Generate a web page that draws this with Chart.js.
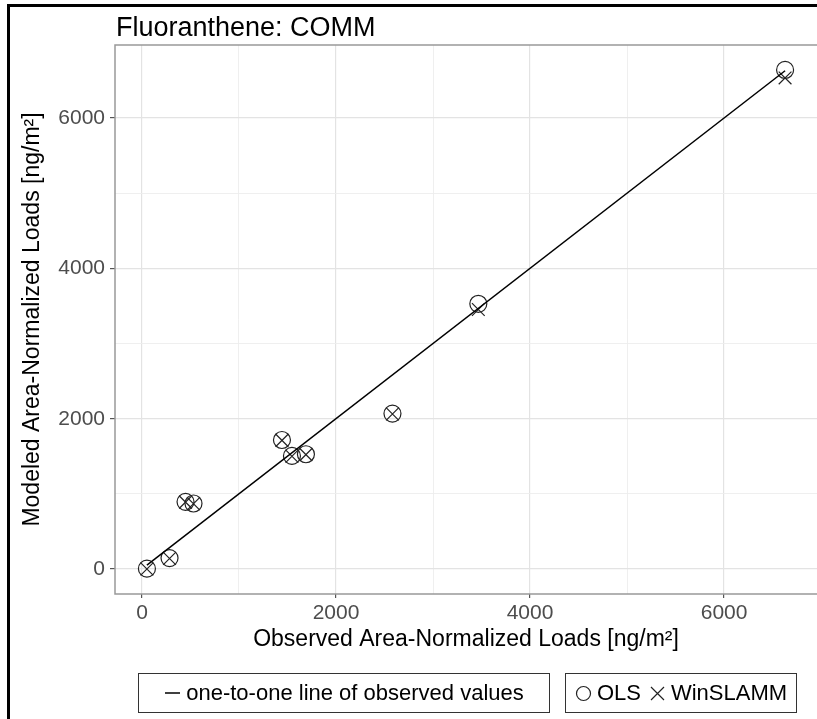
<!DOCTYPE html>
<html>
<head>
<meta charset="utf-8">
<script src="https://cdn.jsdelivr.net/npm/chart.js@4.4.1/dist/chart.umd.min.js"></script>
<style>
  body { margin: 0; background: #fff; font-family: "Liberation Sans", Arial, sans-serif; }
  #wrap { position: relative; width: 817px; height: 719px; overflow: hidden; }
  #frameL { position: absolute; left: 7px; top: 4px; width: 3px; height: 715px; background: #000; }
  #frameT { position: absolute; left: 7px; top: 4px; width: 810px; height: 3px; background: #000; }
  #title { position: absolute; left: 116px; top: 14px; font-size: 27px; line-height: 27px; color: #000; white-space: nowrap; }
  .box { position: absolute; top: 673px; height: 40px; box-sizing: border-box; border: 1px solid #333;
         display: flex; align-items: center; justify-content: center; font-size: 22px; color: #000; white-space: nowrap; }
  #box1 { left: 138px; width: 412px; }
  #box2 { left: 565px; width: 232px; }
  .box svg { margin-right: 5px; flex: none; }
  .gap { width: 8px; }
</style>
</head>
<body>
<div id="wrap">
  <canvas id="scatter" width="817" height="719"></canvas>
  <div id="frameL"></div>
  <div id="frameT"></div>
  <div id="title">Fluoranthene: COMM</div>
  <div class="box" id="box1">
    <svg width="17" height="10"><line x1="1" y1="5" x2="16" y2="5" stroke="#000" stroke-width="1.5"/></svg>
    <span>one-to-one line of observed values</span>
  </div>
  <div class="box" id="box2">
    <svg width="17" height="17"><circle cx="8.5" cy="8.5" r="7" fill="none" stroke="#222" stroke-width="1.2"/></svg>
    <span>OLS</span>
    <span class="gap"></span>
    <svg width="17" height="17"><path d="M2 2L15 15M15 2L2 15" stroke="#222" stroke-width="1.2"/></svg>
    <span>WinSLAMM</span>
  </div>
</div>
<script>
// observed vs modeled loads (ng/m2)
const observed = [51, 284, 449, 531, 1443, 1546, 1690, 2582, 3467, 6629];
const olsModeled = [5, 146, 894, 872, 1717, 1505, 1527, 2068, 3529, 6640];
const winslammModeled = [0, 140, 890, 868, 1712, 1500, 1522, 2062, 3453, 6534];
const lineEnds = [51, 6629];

const gridVals = [0, 1000, 2000, 3000, 4000, 5000, 6000];
const xRange = [-278, 6958];
const yRange = [-332, 6972];

const isMajor = v => v % 2000 === 0;

const panelBorder = {
  id: 'panelBorder',
  afterDraw(chart) {
    const { ctx, chartArea: a } = chart;
    ctx.save();
    ctx.strokeStyle = '#999';
    ctx.lineWidth = 1.5;
    ctx.beginPath();
    ctx.moveTo(a.right, a.top);
    ctx.lineTo(a.left, a.top);
    ctx.lineTo(a.left, a.bottom);
    ctx.lineTo(a.right, a.bottom);
    ctx.stroke();
    ctx.restore();
  }
};

function axis(range, fit, titleText, titlePad, tickLen, tickPad) {
  return {
    type: 'linear',
    min: range[0],
    max: range[1],
    afterBuildTicks: s => { s.ticks = gridVals.map(v => ({ value: v })); },
    afterFit: s => {
      fit(s);
      s.paddingLeft = 0; s.paddingRight = 0; s.paddingTop = 0; s.paddingBottom = 0;
    },
    ticks: {
      callback: v => isMajor(v) ? String(v) : '',
      color: '#4d4d4d',
      font: { family: 'Liberation Sans', size: 21 },
      padding: tickPad,
      maxRotation: 0,
      autoSkip: false
    },
    grid: {
      color: c => c.tick && isMajor(c.tick.value) ? '#e3e3e3' : '#ededed',
      lineWidth: c => c.tick && isMajor(c.tick.value) ? 1.2 : 0.9,
      tickLength: tickLen,
      tickColor: c => c.tick && isMajor(c.tick.value) ? '#555' : 'rgba(0,0,0,0)',
      tickWidth: 1.2
    },
    border: { display: false },
    title: {
      display: true,
      text: titleText,
      color: '#000',
      font: { family: 'Liberation Sans', size: 23 },
      padding: titlePad
    }
  };
}

const ctx = document.getElementById('scatter').getContext('2d');
const scatterChart = new Chart(ctx, {
  type: 'scatter',
  data: {
    datasets: [
      {
        label: 'one-to-one line of observed values',
        data: lineEnds.map(v => ({ x: v, y: v })),
        showLine: true,
        borderColor: '#000',
        borderWidth: 1.5,
        pointRadius: 0
      },
      {
        label: 'OLS',
        data: observed.map((x, i) => ({ x: x, y: olsModeled[i] })),
        pointStyle: 'circle',
        pointRadius: 8.5,
        backgroundColor: 'rgba(0,0,0,0)',
        borderColor: '#222',
        borderWidth: 1.2
      },
      {
        label: 'WinSLAMM',
        data: observed.map((x, i) => ({ x: x, y: winslammModeled[i] })),
        pointStyle: 'crossRot',
        pointRadius: 9,
        backgroundColor: 'rgba(0,0,0,0)',
        borderColor: '#222',
        borderWidth: 1.2
      }
    ]
  },
  options: {
    responsive: false,
    animation: false,
    layout: { autoPadding: false, padding: { left: 10, top: 45, right: 0, bottom: 65 } },
    plugins: { legend: { display: false }, tooltip: { enabled: false } },
    scales: {
      x: axis(xRange, s => { s.height = 60; }, 'Observed Area-Normalized Loads [ng/m\u00B2]', { top: 0, bottom: 1 }, 4, 3),
      y: axis(yRange, s => { s.width = 105; }, 'Modeled Area-Normalized Loads [ng/m\u00B2]', { top: 9, bottom: 0 }, 5, 5)
    }
  },
  plugins: [panelBorder]
});
</script>
</body>
</html>
